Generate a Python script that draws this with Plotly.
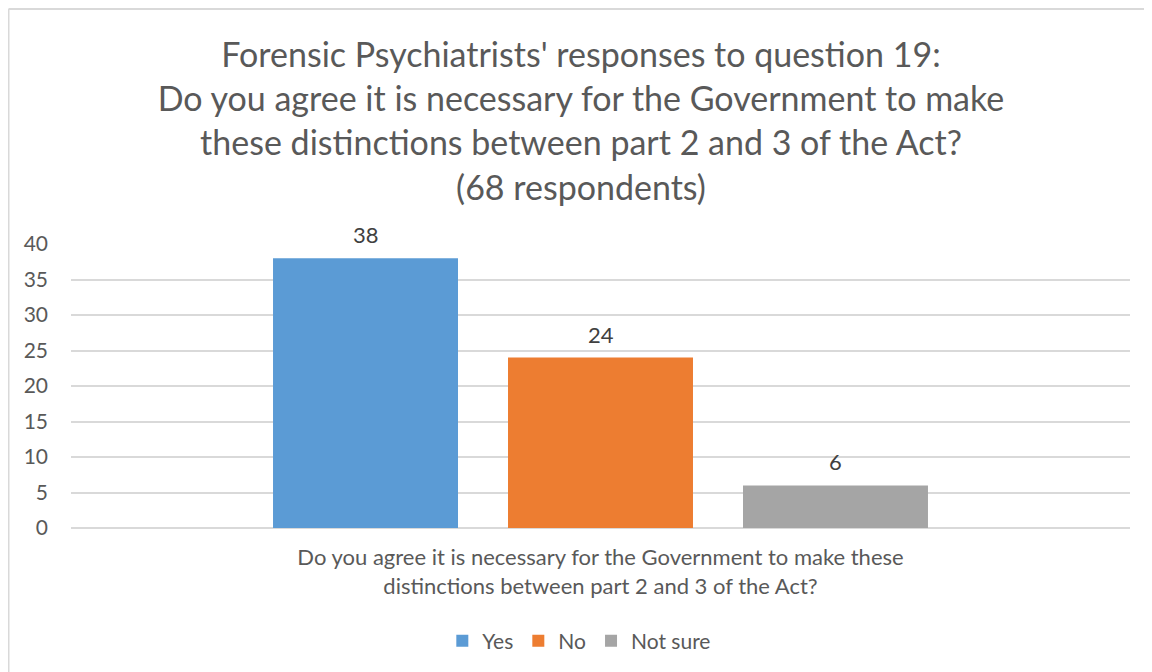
import plotly.graph_objects as go

# data
category = ["Do you agree it is necessary for the Government to make these<br>distinctions between part 2 and 3 of the Act?"]
series = ["Yes", "No", "Not sure"]
counts = [38, 24, 6]
colors = ["#5b9bd5", "#ed7d31", "#a5a5a5"]
y_ticks = [0, 5, 10, 15, 20, 25, 30, 35, 40]

title_text = ("Forensic Psychiatrists' responses to question 19:<br>"
              "Do you agree it is necessary for the Government to make<br>"
              "these distinctions between part 2 and 3 of the Act?<br>"
              "(68 respondents)")

FONT = "Lato"
GRID = "#d9d9d9"
W, H = 1144, 664          # page body adds an 8px margin
L, R, T, B = 63, 22, 236, 144
BARGAP, GROUPGAP = 0.3343, 0.2128

fig = go.Figure()
for name, val, col in zip(series, counts, colors):
    fig.add_trace(go.Bar(x=["q19"], y=[val], name=name, marker=dict(color=col, line=dict(width=0)),
                         hoverinfo="name+y"))

# value labels above each bar of the group
slot = (1 - BARGAP) / len(series)
for i, val in enumerate(counts):
    fig.add_annotation(x=(i - (len(series) - 1) / 2) * slot, y=val, text=str(val), showarrow=False,
                       yanchor="bottom", yshift=8, font=dict(size=22, color="#404040", family=FONT))

# chart border (left + top, as in the cropped screenshot)
pw, ph = W - L - R, H - T - B
bx, by = (0.5 - L) / pw, (H - B - 1) / ph
border = dict(type="line", xref="paper", yref="paper", line=dict(color=GRID, width=2))
shapes = [dict(border, x0=bx, x1=bx, y0=-B / ph, y1=by),
          dict(border, x0=bx, x1=1 + R / pw, y0=by, y1=by)]

fig.update_layout(
    width=W, height=H,
    margin=dict(l=L, r=R, t=T, b=B, autoexpand=False),
    paper_bgcolor="white", plot_bgcolor="white",
    font=dict(family=FONT, color="#595959"),
    title=dict(text=title_text, x=573 / W, xanchor="center", y=1 - 59 / H, yanchor="top",
               yref="container", font=dict(size=34, color="#595959", family=FONT)),
    barmode="group", bargap=BARGAP, bargroupgap=GROUPGAP,
    showlegend=True,
    legend=dict(orientation="h", x=0.48, xanchor="center", y=-0.398, yanchor="middle",
                font=dict(size=21, color="#595959", family=FONT), itemwidth=30,
                traceorder="normal"),
    xaxis=dict(tickvals=["q19"], ticktext=category, showgrid=False, showline=False, ticks="",
               ticklabelstandoff=14, tickfont=dict(size=22, color="#595959", family=FONT)),
    yaxis=dict(range=[0, 40], tickvals=y_ticks, showgrid=True, gridcolor=GRID, gridwidth=1.5,
               zeroline=True, zerolinecolor=GRID, zerolinewidth=2, ticks="", ticklabelstandoff=22,
               tickfont=dict(size=21, color="#595959", family=FONT)),
    shapes=shapes,
)

fig.write_html("out.html")
